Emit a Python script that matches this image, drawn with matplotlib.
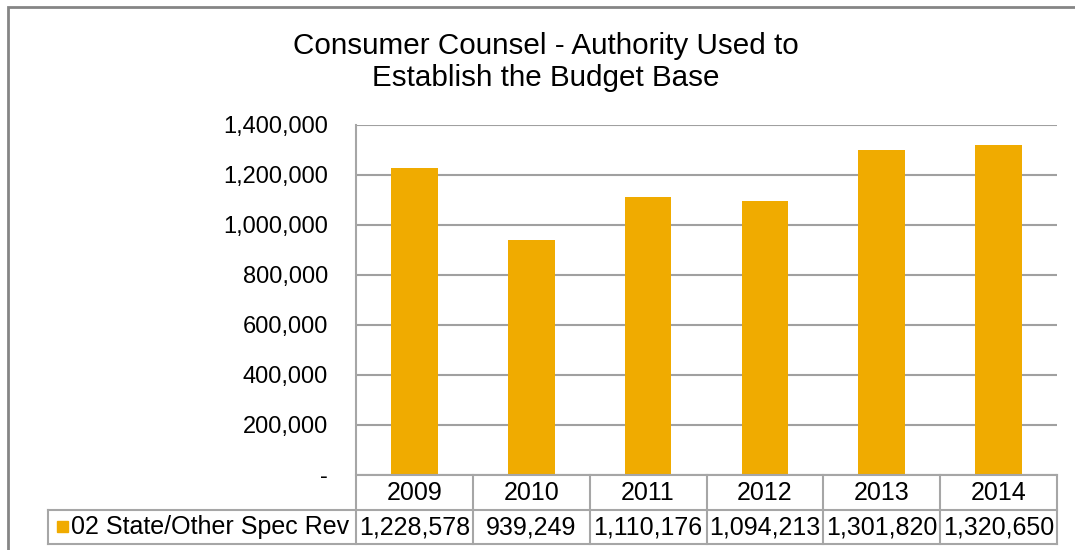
import matplotlib
matplotlib.use("Agg")
import matplotlib.pyplot as plt
from matplotlib.lines import Line2D
from matplotlib.patches import Rectangle

plt.rcParams['font.family'] = ['Liberation Sans', 'DejaVu Sans']

years = ['2009', '2010', '2011', '2012', '2013', '2014']
series_name = '02 State/Other Spec Rev'
amounts = [1228578, 939249, 1110176, 1094213, 1301820, 1320650]
y_ticks = [0, 200000, 400000, 600000, 800000, 1000000, 1200000, 1400000]

bar_color = '#F0AB00'
grid_color = '#A0A0A0'
line_color = '#A6A6A6'

W, H = 1075, 550
fig = plt.figure(figsize=(W / 100, H / 100), dpi=100)

# outer chart frame (runs past the right and bottom edges)
fig.patches.append(Rectangle((8 / W, -0.1), 1.2, (H - 7) / H + 0.1,
                             transform=fig.transFigure, fill=False,
                             edgecolor='#858585', linewidth=2))

ax = fig.add_axes([356 / W, (H - 475) / H, 701 / W, 350 / H])
x = range(len(years))
ax.bar(x, amounts, width=0.4, color=bar_color, zorder=3)
ax.set_xlim(-0.5, len(years) - 0.5)
ax.set_ylim(0, 1400000)
ax.set_yticks(y_ticks)
ax.set_yticklabels(['-' if v == 0 else f'{v:,}' for v in y_ticks], fontsize=17)
ax.tick_params(axis='y', length=0, pad=20)
ax.set_xticks([])
for s in ax.spines.values():
    s.set_visible(False)
ax.grid(axis='y', color=grid_color, linewidth=1.5, zorder=0)
ax.set_axisbelow(True)

fig.text(546 / W, 1 - 46 / H, 'Consumer Counsel - Authority Used to',
         ha='center', va='center', fontsize=21.3)
fig.text(546 / W, 1 - 78 / H, 'Establish the Budget Base',
         ha='center', va='center', fontsize=21.3)

# data table under the plot, in axes coordinates
t = ax.transAxes
n = len(years)
row1 = -35 / 350
row2 = -69 / 350
left_cell = (48 - 356) / 701


def seg(x0, y0, x1, y1):
    ax.add_line(Line2D([x0, x1], [y0, y1], transform=t, color=line_color,
                       linewidth=1.5, clip_on=False, zorder=4))


seg(0, 0, 1, 0)
seg(left_cell, row1, 1, row1)
seg(left_cell, row2, 1, row2)
seg(0, 1, 0, row2)
seg(left_cell, row1, left_cell, row2)
for k in range(1, n + 1):
    seg(k / n, 0, k / n, row2)

for i, (yr, v) in enumerate(zip(years, amounts)):
    cx = (i + 0.5) / n
    ax.text(cx, row1 / 2, yr, transform=t, ha='center', va='center',
            fontsize=18)
    ax.text(cx, (row1 + row2) / 2, f'{v:,}', transform=t, ha='center',
            va='center', fontsize=18)

ax.add_patch(Rectangle(((57 - 356) / 701, (475 - 532) / 350), 11 / 701, 11 / 350,
                       transform=t, color=bar_color, clip_on=False))
ax.text((71 - 356) / 701, (row1 + row2) / 2, series_name, transform=t,
        ha='left', va='center', fontsize=18)

fig.savefig('out.png', dpi=100)
